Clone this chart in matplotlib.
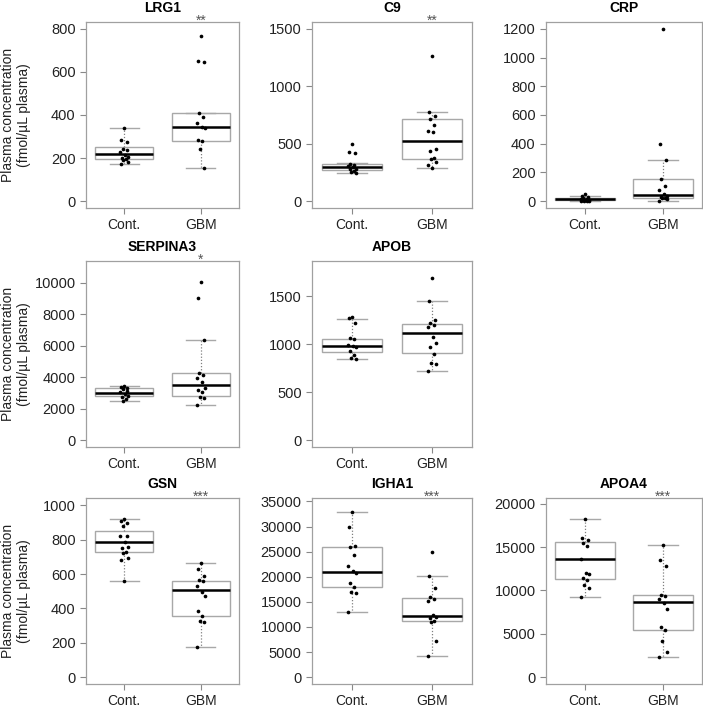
import matplotlib
matplotlib.use("Agg")
import matplotlib.pyplot as plt

plt.rcParams['font.family'] = ['Liberation Sans', 'DejaVu Sans']

groups = ['Cont.', 'GBM']

# protein names, significance marks and axis ranges
proteins = ['LRG1', 'C9', 'CRP', 'SERPINA3', 'APOB', 'GSN', 'IGHA1', 'APOA4']
stars = ['**', '**', '', '*', '', '***', '***', '***']
ytop = [800, 1500, 1200, 10950, 1794, 1003, 34315, 19868]
yticks = [
    [0, 200, 400, 600, 800],
    [0, 500, 1000, 1500],
    [0, 200, 400, 600, 800, 1000, 1200],
    [0, 2000, 4000, 6000, 8000, 10000],
    [0, 500, 1000, 1500],
    [0, 200, 400, 600, 800, 1000],
    [0, 5000, 10000, 15000, 20000, 25000, 30000, 35000],
    [0, 5000, 10000, 15000, 20000],
]

# individual samples (fmol/uL plasma): [Cont., GBM]
points = {
    'LRG1': [[338, 284, 273, 240, 236, 230, 215, 205, 200, 195, 190, 183, 172],
             [769, 653, 648, 411, 392, 364, 343, 340, 284, 279, 243, 155]],
    'C9': [[496, 427, 421, 326, 317, 303, 297, 283, 277, 262, 254, 248],
           [1261, 779, 741, 718, 661, 614, 603, 453, 433, 375, 364, 340, 317, 291]],
    'CRP': [[51, 35, 30, 20, 15, 12, 10, 8, 5, 4, 3, 2, 1],
            [1198, 398, 284, 156, 102, 74, 51, 37, 26, 24, 21, 12, 2]],
    'SERPINA3': [[3433, 3348, 3284, 3220, 3150, 3030, 2950, 2797, 2750, 2585, 2500],
                 [10065, 9006, 6357, 4238, 4132, 3962, 3666, 3284, 3178, 3030, 2755, 2691, 2225]],
    'APOB': [[1278, 1267, 1222, 1059, 1052, 986, 979, 972, 930, 882, 851, 840],
             [1691, 1444, 1250, 1215, 1198, 1174, 1076, 1007, 965, 896, 806, 788, 722]],
    'GSN': [[921, 907, 898, 882, 824, 820, 786, 759, 751, 728, 720, 693, 681, 562],
            [666, 627, 589, 564, 560, 531, 496, 473, 386, 357, 328, 319, 178]],
    'IGHA1': [[32887, 29850, 26218, 25954, 24237, 22123, 21067, 20803, 18689, 18029, 16972, 16708, 13010],
              [24963, 20142, 17831, 15982, 15652, 15189, 12350, 12019, 11689, 11227, 11029, 7198, 4293]],
    'APOA4': [[18203, 16061, 15870, 15487, 15143, 13575, 12046, 11893, 11396, 11205, 10631, 10248, 9254],
              [15296, 13499, 12849, 9484, 9369, 8987, 8528, 7839, 5736, 5468, 4130, 2906, 2294]],
}

# box statistics: (whislo, q1, med, q3, whishi) for [Cont., GBM]
boxes = {
    'LRG1': [(172, 194, 219, 253, 338), (155, 281, 346, 411, 411)],
    'C9': [(248, 274, 297, 323, 330), (291, 366, 525, 718, 779)],
    'CRP': [(2, 7, 14, 21, 35), (2, 21, 44, 156, 284)],
    'SERPINA3': [(2500, 2776, 3009, 3284, 3412), (2225, 2776, 3518, 4238, 6357)],
    'APOB': [(844, 917, 979, 1049, 1257), (722, 903, 1111, 1208, 1444)],
    'GSN': [(562, 728, 784, 853, 921), (178, 355, 508, 560, 666)],
    'IGHA1': [(13010, 18029, 21000, 25888, 32887), (4293, 11095, 12217, 15850, 20142)],
    'APOA4': [(9254, 11281, 13575, 15564, 18203), (2294, 5468, 8719, 9445, 15296)],
}

# axes frames in pixels: left, top, width, height
col_x = [86, 312, 546]
col_w = [153, 160, 156]
row_y = [22, 261, 498]
cells = [(0, 0), (0, 1), (0, 2), (1, 0), (1, 1), (2, 0), (2, 1), (2, 2)]
H = 186
W_PX, H_PX = 703, 707

jitter = [0.0, -0.04, 0.04, -0.02, 0.03, -0.05, 0.01, 0.05, -0.03, 0.02, -0.01, 0.045, -0.045, 0.0]

fig = plt.figure(figsize=(W_PX / 100, H_PX / 100), dpi=100)

for k, name in enumerate(proteins):
    r, c = cells[k]
    ax = fig.add_axes([col_x[c] / W_PX, 1 - (row_y[r] + H) / H_PX,
                       col_w[c] / W_PX, H / H_PX])

    stats = []
    for g, (lo, q1, med, q3, hi) in zip(groups, boxes[name]):
        stats.append(dict(label=g, whislo=lo, q1=q1, med=med, q3=q3,
                          whishi=hi, fliers=[]))
    ax.bxp(stats, positions=[1, 2], widths=0.76, capwidths=0.38,
           showfliers=False, patch_artist=True,
           boxprops=dict(facecolor='white', edgecolor='#a8a8a8', linewidth=1.0),
           medianprops=dict(color='black', linewidth=1.8),
           whiskerprops=dict(color='#808080', linestyle=(0, (1, 1.5)), linewidth=0.9),
           capprops=dict(color='#a8a8a8', linewidth=1.0))

    for i, vals in enumerate(points[name]):
        xs = [i + 1 + jitter[j % len(jitter)] for j in range(len(vals))]
        ax.scatter(xs, vals, s=7, color='black', zorder=3, linewidths=0)

    m = ytop[k]
    ax.set_ylim(-0.04 * m, 1.04 * m)
    ax.set_xlim(0.5, 2.5)
    ax.set_yticks(yticks[k])
    ax.set_xticks([1, 2])
    ax.set_xticklabels(groups)
    ax.tick_params(axis='both', colors='#888888', labelcolor='#222222',
                   length=4, width=0.8)
    ax.tick_params(axis='y', labelsize=10.5)
    ax.tick_params(axis='x', labelsize=10)
    for s in ax.spines.values():
        s.set_color('#a0a0a0')
        s.set_linewidth(0.9)

    ax.set_title(name, fontsize=10, fontweight='bold', pad=7)
    if stars[k]:
        ax.annotate(stars[k], xy=(2, 1.0), xycoords=('data', 'axes fraction'),
                    xytext=(0, -2), textcoords='offset points',
                    ha='center', va='baseline', fontsize=10, color='#555555')
    if c == 0:
        ax.set_ylabel('Plasma concentration\n(fmol/µL plasma)', fontsize=10,
                      color='#222222', linespacing=1.15)
        ax.yaxis.set_label_coords(-0.36, 0.5)

fig.savefig('out.png', dpi=100)
